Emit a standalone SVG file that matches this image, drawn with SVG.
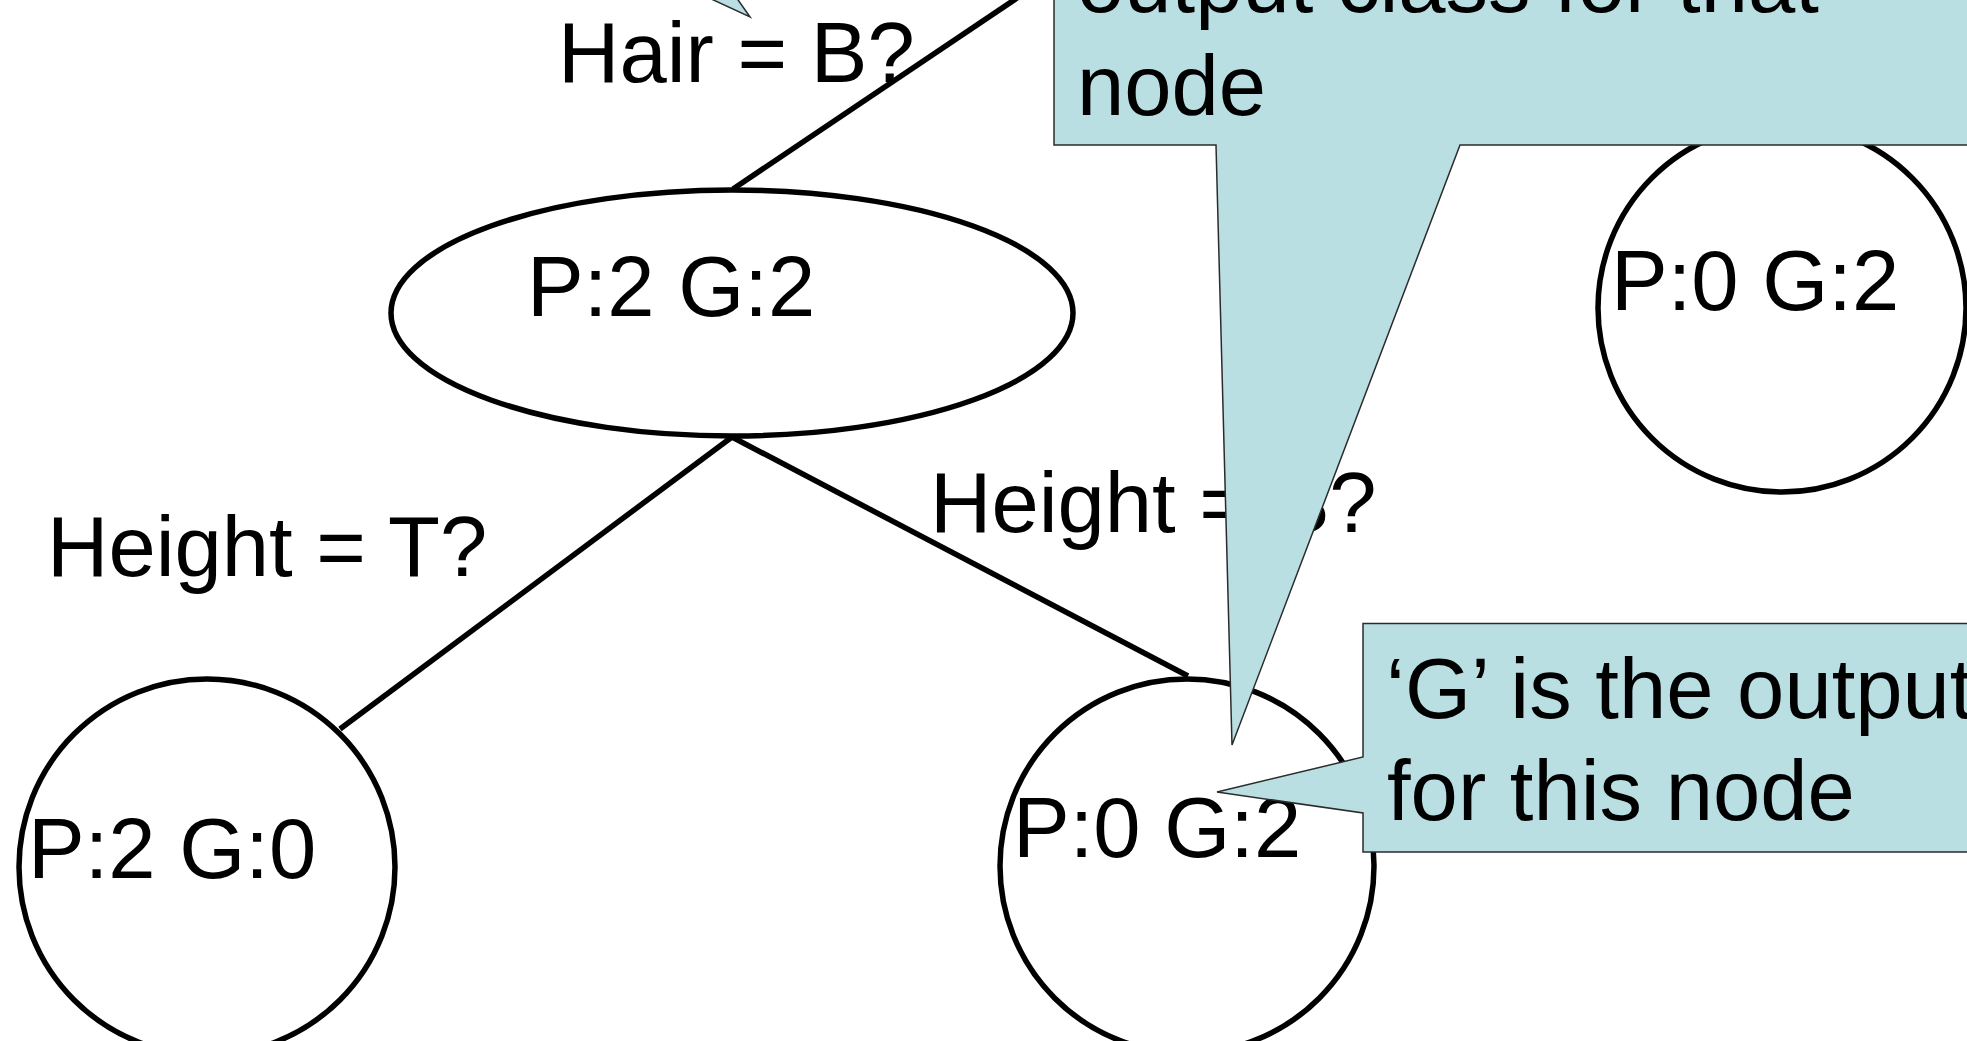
<svg xmlns="http://www.w3.org/2000/svg" width="1967" height="1041" viewBox="0 0 1967 1041">
  <style>
    .edge { stroke: #000; stroke-width: 5.5; fill: none; stroke-linecap: butt; }
    .node { stroke: #000; stroke-width: 5.5; fill: #fff; }
    .txt { font-family: "Liberation Sans", Arial, Helvetica, sans-serif; font-size: 85px; fill: #000; }
    .callout { fill: #b9dfe3; stroke: #2b2b2b; stroke-width: 1.5; stroke-linejoin: miter; }
  </style>
  <rect x="0" y="0" width="1967" height="1041" fill="#fff"/>

  <!-- tree branches and their test labels -->
  <g id="connectors">
    <line class="edge" x1="733" y1="189" x2="1017" y2="-2"/>
    <line class="edge" x1="732" y1="437" x2="340" y2="729"/>
    <line class="edge" x1="732" y1="437" x2="1188" y2="676"/>
    <text class="txt" x="558" y="82">Hair = B?</text>
    <text class="txt" x="47" y="576">Height = T?</text>
    <text class="txt" x="930" y="532">Height = S?</text>
  </g>

  <!-- tree nodes -->
  <g id="node-root">
    <ellipse class="node" cx="732" cy="313" rx="341" ry="123"/>
    <text class="txt" x="527" y="316">P:2 G:2</text>
  </g>
  <g id="node-right">
    <circle class="node" cx="1782" cy="308" r="184"/>
    <text class="txt" x="1611" y="310">P:0 G:2</text>
  </g>
  <g id="node-tall">
    <circle class="node" cx="207" cy="867" r="188"/>
    <text class="txt" x="28" y="878">P:2 G:0</text>
  </g>
  <g id="node-short">
    <circle class="node" cx="1187" cy="866" r="187"/>
    <text class="txt" x="1013" y="857">P:0 G:2</text>
  </g>

  <!-- callouts -->
  <g id="callout-small">
    <path class="callout" d="M 707,-3 L 750,17 L 736,-3 Z"/>
  </g>
  <g id="callout-leaf">
    <path class="callout" d="M 1054,-10 L 1054,145 L 1216,145 L 1232,745 L 1460,145 L 1980,145 L 1980,-10 Z"/>
    <text class="txt" x="1077" y="12">output class for that</text>
    <text class="txt" x="1077" y="115">node</text>
  </g>
  <g id="callout-output">
    <path class="callout" d="M 1363,623.5 L 1980,623.5 L 1980,852 L 1363,852 L 1363,813 L 1217,792 L 1363,757 Z"/>
    <text class="txt" x="1386" y="718">‘G’ is the output</text>
    <text class="txt" x="1387" y="820">for this node</text>
  </g>
</svg>
